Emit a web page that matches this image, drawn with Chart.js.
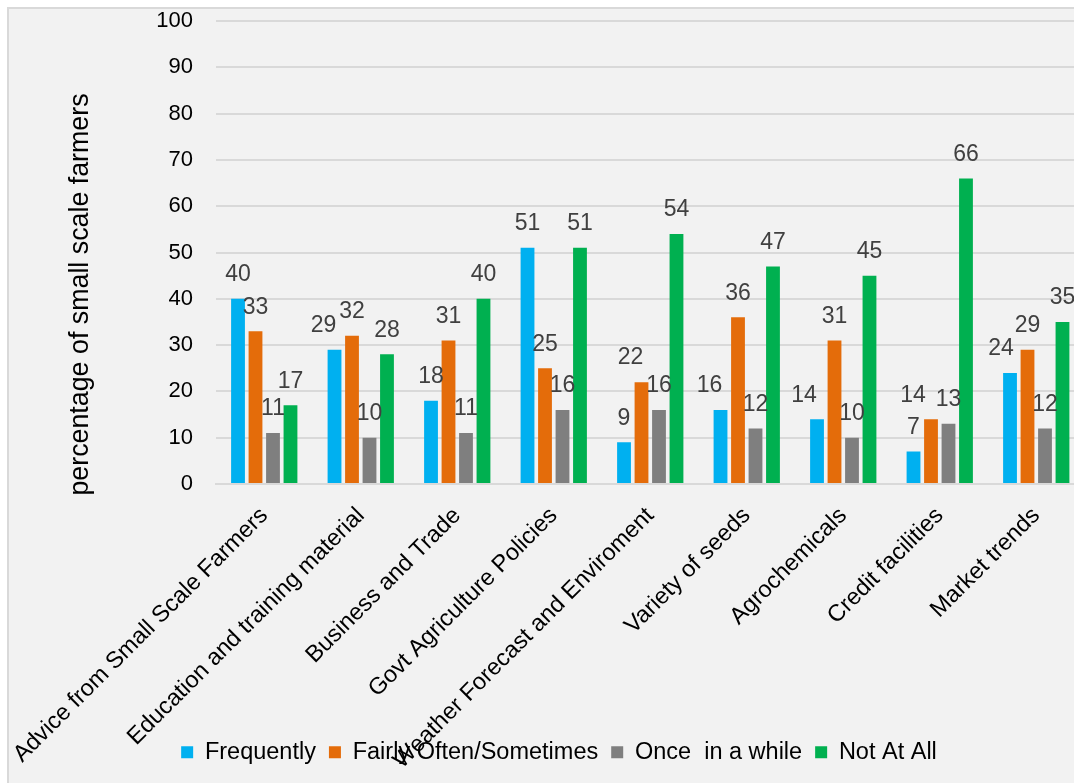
<!DOCTYPE html>
<html>
<head>
<meta charset="utf-8">
<title>Information needs of small scale farmers</title>
<script src="https://cdn.jsdelivr.net/npm/chart.js@4.4.1/dist/chart.umd.min.js"></script>
<style>
  html, body { margin: 0; padding: 0; background: #fff; overflow: hidden; }
  .chart-frame {
    position: absolute; left: 7px; top: 7px;
    width: 1090px; height: 790px;
    border: 2px solid #d9d9d9; background: #f2f2f2;
  }
  canvas { display: block; }
</style>
</head>
<body>
<div class="chart-frame"><canvas id="chart" width="1090" height="790"></canvas></div>
<script>
const FONT = '"Liberation Sans", Arial, sans-serif';

const categories = [
  'Advice from Small Scale Farmers',
  'Education and training material',
  'Business and Trade',
  'Govt Agriculture Policies',
  'Weather Forecast and Enviroment',
  'Variety of seeds',
  'Agrochemicals',
  'Credit facilities',
  'Market trends'
];
const seriesNames = ['Frequently', 'Fairly Often/Sometimes', 'Once  in a while', 'Not At All'];
const frequently   = [40, 29, 18, 51,  9, 16, 14,  7, 24];
const fairlyOften  = [33, 32, 31, 25, 22, 36, 31, 14, 29];
const onceInAWhile = [11, 10, 11, 16, 16, 12, 10, 13, 12];
const notAtAll     = [17, 28, 40, 51, 54, 47, 45, 66, 35];
const yMax = 100;
const yStep = 10;
const yTitle = 'percentage of small scale farmers';

const seriesColors = ['#00b0f0', '#e46c0a', '#7f7f7f', '#00b050'];

// a few value labels sit left of their bar so they don't collide
const labelShift = { '0:1': -11, '1:4': -11, '0:5': -11, '0:6': -13, '1:7': -18, '0:8': -9 };

const valueLabels = {
  id: 'valueLabels',
  afterDatasetsDraw(chart) {
    const ctx = chart.ctx;
    ctx.save();
    ctx.font = '23px ' + FONT;
    ctx.fillStyle = '#404040';
    ctx.textAlign = 'center';
    ctx.textBaseline = 'middle';
    chart.data.datasets.forEach((ds, di) => {
      chart.getDatasetMeta(di).data.forEach((bar, i) => {
        const dx = labelShift[di + ':' + i] || 0;
        ctx.fillText(String(ds.data[i]), bar.x + dx, bar.y - 24);
      });
    });
    ctx.restore();
  }
};

// y axis title, drawn by hand so it can sit a bit below the plot's middle
const axisTitle = {
  id: 'axisTitle',
  afterDraw(chart) {
    const { ctx, chartArea } = chart;
    ctx.save();
    ctx.translate(chartArea.left - 135, (chartArea.top + chartArea.bottom) / 2 + 42);
    ctx.rotate(-Math.PI / 2);
    ctx.font = '26.8px ' + FONT;
    ctx.fillStyle = '#000';
    ctx.textAlign = 'center';
    ctx.textBaseline = 'middle';
    ctx.fillText(yTitle, 0, 0);
    ctx.restore();
  }
};

// let the long category names run down past the axis box (over the legend row)
const longTickLabels = {
  id: 'longTickLabels',
  afterLayout(chart) {
    chart.scales.x.bottom = chart.height;
  }
};

const seriesData = [frequently, fairlyOften, onceInAWhile, notAtAll];

new Chart(document.getElementById('chart'), {
  type: 'bar',
  data: {
    labels: categories,
    datasets: seriesNames.map((name, i) => ({
      label: name,
      data: seriesData[i],
      backgroundColor: seriesColors[i],
      borderWidth: 0,
      categoryPercentage: 0.725,
      barPercentage: 0.79
    }))
  },
  options: {
    responsive: false,
    animation: false,
    devicePixelRatio: 1,
    layout: { padding: { left: 24.5, right: 14.5, top: 12, bottom: 25 } },
    plugins: {
      tooltip: { enabled: false },
      legend: {
        position: 'bottom',
        labels: {
          boxWidth: 12,
          boxHeight: 12,
          padding: 13,
          color: '#000',
          font: { family: FONT, size: 23.5 }
        }
      }
    },
    scales: {
      x: {
        grid: { display: false },
        border: { display: true, color: '#d9d9d9', width: 2 },
        ticks: {
          autoSkip: false,
          minRotation: 45,
          maxRotation: 45,
          padding: 10,
          color: '#000',
          font: { family: FONT, size: 23.5 }
        },
        afterFit(scale) {
          scale.height = 243.5;
          scale.paddingLeft = 0;
          scale.paddingRight = 0;
        }
      },
      y: {
        min: 0,
        max: yMax,
        ticks: {
          stepSize: yStep,
          padding: 23,
          color: '#000',
          font: { family: FONT, size: 22, lineHeight: 1 }
        },
        grid: { color: '#d9d9d9', lineWidth: 2, drawTicks: false },
        border: { display: false },
        afterFit(scale) {
          scale.width = 182.5;
          scale.paddingTop = 0;
          scale.paddingBottom = 0;
        }
      }
    }
  },
  plugins: [valueLabels, axisTitle, longTickLabels]
});
</script>
</body>
</html>
